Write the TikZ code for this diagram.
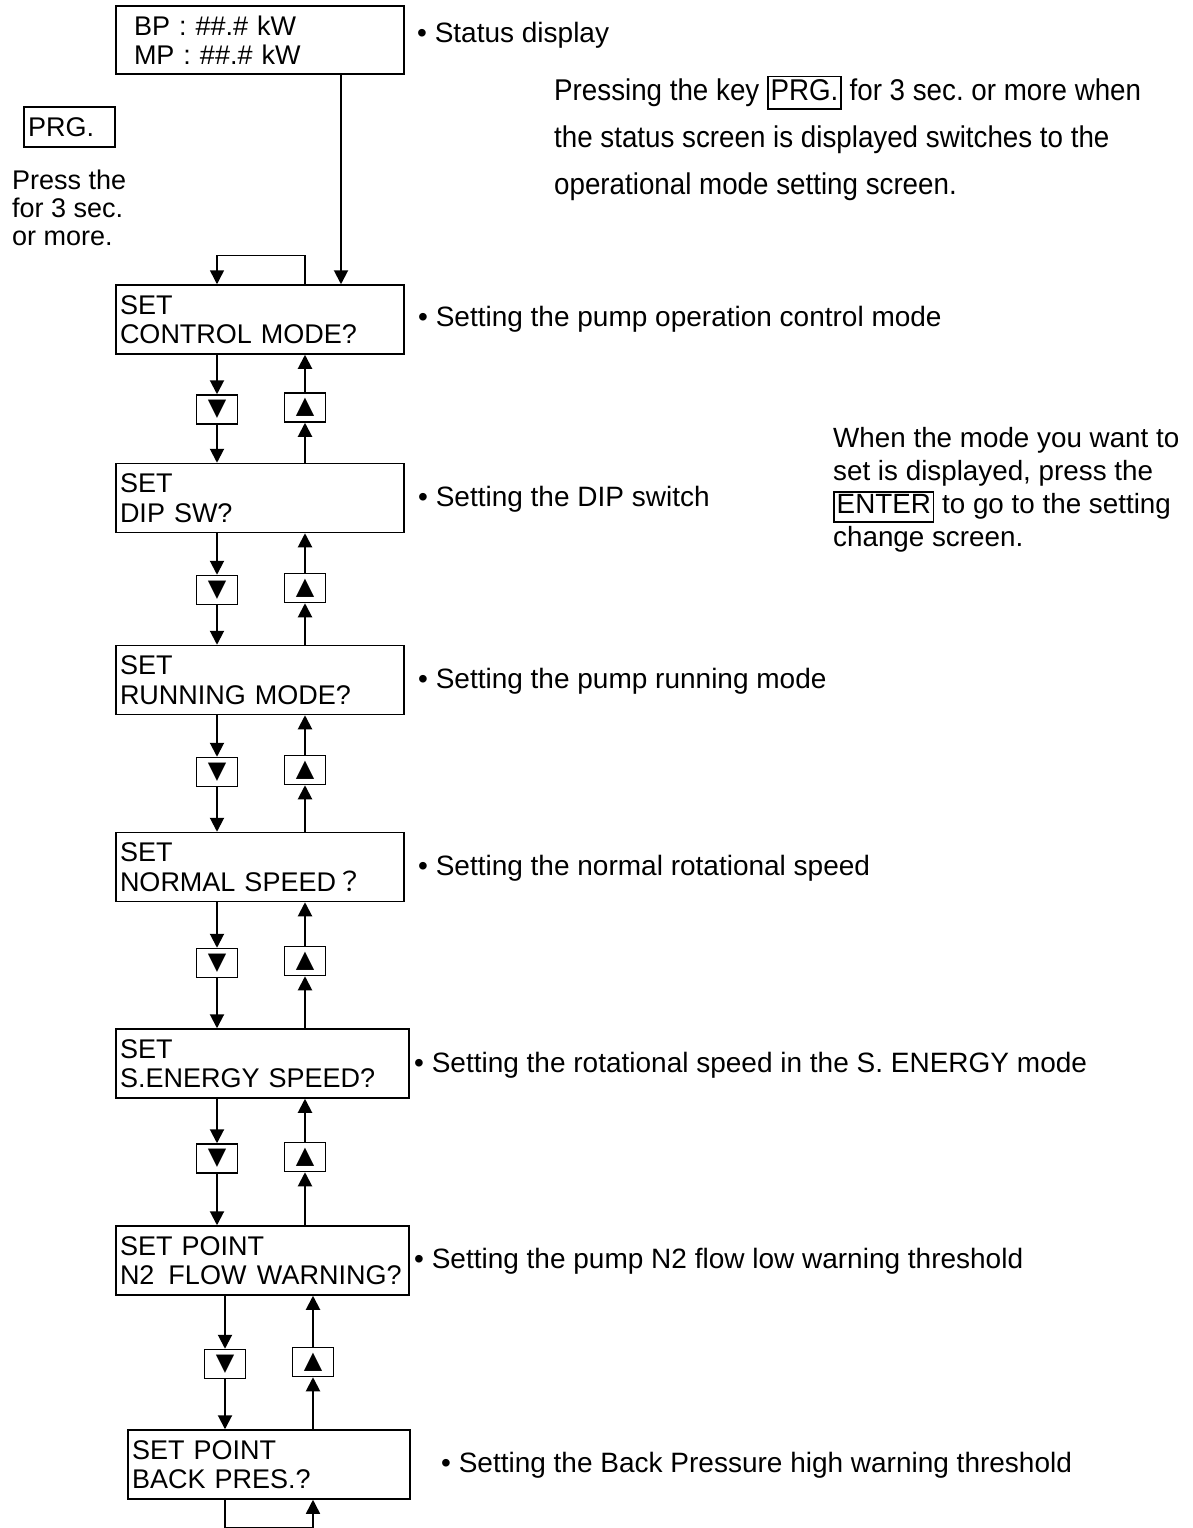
\documentclass[tikz,border=0pt]{standalone}
\usepackage{fontspec}
\setmainfont{Liberation Sans}
\newfontfamily\symfont{DejaVu Sans}
\newfontfamily\narrowfont[FakeStretch=0.925]{Liberation Sans}
\newfontfamily\cjk{Noto Sans CJK JP}
\usetikzlibrary{arrows.meta,positioning}
\frenchspacing

\newcommand{\keycap}[1]{{\setlength{\fboxsep}{2pt}\setlength{\fboxrule}{1.5pt}\fbox{\vphantom{Ag}#1}}}

\tikzset{
  screen/.style={draw,line width=1.5pt,minimum height=69pt,inner xsep=4pt,inner ysep=0pt,
    align=left,font=\fontsize{27}{29.5}\selectfont},
  key/.style={draw,line width=1.5pt,minimum width=41pt,minimum height=29pt,inner sep=0pt,
    font=\symfont\fontsize{24}{24}\selectfont},
  desc/.style={anchor=base west,inner sep=0pt,font=\fontsize{28}{32}\selectfont},
  note/.style={anchor=west,inner sep=0pt,align=left},
  arr/.style={line width=2pt,-{Triangle[length=14pt,width=14pt]}},
}

\begin{document}
\begin{tikzpicture}[x=1pt,y=-1pt]
  \useasboundingbox (0,0) rectangle (1192,1528);
  % screens
  \node[screen,text width=252pt,inner xsep=18pt,minimum height=68pt] (status) at (260,40) {BP : \#\#.\# kW\\MP : \#\#.\# kW};
  \node[screen,text width=280pt] (ctrl) at (260,319.5) {SET\\CONTROL MODE?};
  \node[screen,text width=280pt] (dip) at (260,498) {SET\\DIP SW?};
  \node[screen,text width=280pt] (run) at (260,680) {SET\\RUNNING MODE?};
  \node[screen,text width=280pt] (norm) at (260,867) {SET\\NORMAL SPEED{\cjk ？}};
  \node[screen,text width=285pt] (seng) at (262.5,1063.5) {SET\\S.ENERGY SPEED?};
  \node[screen,text width=285pt] (nflow) at (262.5,1260.5) {SET POINT\\N2\hspace{5pt} FLOW\hspace{1.5pt} WARNING?};
  \node[screen,text width=274pt] (back) at (269,1464.5) {SET POINT\\BACK PRES.?};
  % keys
  \node[key] (d1) at (217,409.5) {▼};  \node[key] (u1) at (305,407.5) {▲};
  \node[key] (d2) at (217,590) {▼};    \node[key] (u2) at (305,588) {▲};
  \node[key] (d3) at (217,772) {▼};    \node[key] (u3) at (305,770) {▲};
  \node[key] (d4) at (217,963) {▼};    \node[key] (u4) at (305,961) {▲};
  \node[key] (d5) at (217,1158.5) {▼}; \node[key] (u5) at (305,1157) {▲};
  \node[key] (d6) at (225,1364) {▼};   \node[key] (u6) at (313,1362) {▲};
  \node[draw,line width=1.5pt,text width=83pt,inner xsep=4pt,minimum height=40pt,align=left,
    font=\fontsize{27}{29.5}\selectfont] (prg) at (69.5,127) {PRG.};
  % texts
  \node[note,font=\fontsize{27}{28}\selectfont] (press) at (12,208) {Press the\\for 3 sec.\\or more.};
  \node[note,font=\narrowfont\fontsize{30}{47}\selectfont] (hint) at (554,138)
    {Pressing the key \keycap{PRG.} for 3 sec. or more when\\the status screen is displayed switches to the\\operational mode setting screen.};
  \node[note,font=\fontsize{27.8}{33}\selectfont] (enter) at (833,490)
    {When the mode you want to\\set is displayed, press the\\\keycap{ENTER} to go to the setting\\change screen.};
  \node[desc] (dstatus) at (417,43) {• Status display};
  \node[desc] (dctrl) at (418,326) {• Setting the pump operation control mode};
  \node[desc] (ddip) at (418,506) {• Setting the DIP switch};
  \node[desc] (drun) at (418,688) {• Setting the pump running mode};
  \node[desc] (dnorm) at (418,875) {• Setting the normal rotational speed};
  \node[desc] (dseng) at (414,1072) {• Setting the rotational speed in the S. ENERGY mode};
  \node[desc] (dnflow) at (414,1268) {• Setting the pump N2 flow low warning threshold};
  \node[desc] (dback) at (441,1472) {• Setting the Back Pressure high warning threshold};
  % connectors
  \draw[arr] ([xshift=81pt]status.south) -- ([xshift=81pt]status.south |- ctrl.north);
  \draw[arr,line width=1.5pt] (ctrl.north -| u1) -- ++(0,-29) -| (ctrl.north -| d1);
  \draw[arr] (ctrl.south -| d1) -- (d1.north); \draw[arr] (d1.south) -- (d1 |- dip.north);
  \draw[arr] (u1 |- dip.north) -- (u1.south); \draw[arr] (u1.north) -- (u1 |- ctrl.south);
  \draw[arr] (dip.south -| d2) -- (d2.north); \draw[arr] (d2.south) -- (d2 |- run.north);
  \draw[arr] (u2 |- run.north) -- (u2.south); \draw[arr] (u2.north) -- (u2 |- dip.south);
  \draw[arr] (run.south -| d3) -- (d3.north); \draw[arr] (d3.south) -- (d3 |- norm.north);
  \draw[arr] (u3 |- norm.north) -- (u3.south); \draw[arr] (u3.north) -- (u3 |- run.south);
  \draw[arr] (norm.south -| d4) -- (d4.north); \draw[arr] (d4.south) -- (d4 |- seng.north);
  \draw[arr] (u4 |- seng.north) -- (u4.south); \draw[arr] (u4.north) -- (u4 |- norm.south);
  \draw[arr] (seng.south -| d5) -- (d5.north); \draw[arr] (d5.south) -- (d5 |- nflow.north);
  \draw[arr] (u5 |- nflow.north) -- (u5.south); \draw[arr] (u5.north) -- (u5 |- seng.south);
  \draw[arr] (nflow.south -| d6) -- (d6.north); \draw[arr] (d6.south) -- (d6 |- back.north);
  \draw[arr] (u6 |- back.north) -- (u6.south); \draw[arr] (u6.north) -- (u6 |- nflow.south);
  \draw[arr,line width=1.5pt] (back.south -| d6) -- ++(0,28) -| (back.south -| u6);
\end{tikzpicture}
\end{document}
